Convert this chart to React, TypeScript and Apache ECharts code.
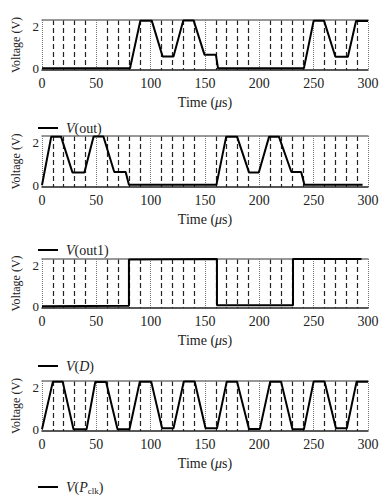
import React, { useEffect, useRef } from 'react';
import * as echarts from 'echarts';

const yLabelValues = [0, 2];

const vOut: [number, number][] = [
  [0, 0], [81, 0], [90.5, 2.27], [101, 2.27], [111, 0.56], [121, 0.56], [130, 2.28], [139.5, 2.28],
  [149.5, 0.65], [160, 0.65], [162, 0], [241, 0], [250, 2.27], [259.5, 2.27], [270, 0.55],
  [281.5, 0.55], [289, 2.25], [300, 2.25],
];

const vOut1: [number, number][] = [
  [0, 0], [8.5, 2.27], [17.5, 2.27], [28, 0.6], [39, 0.6], [47.5, 2.28], [56.5, 2.28], [66.5, 0.62],
  [77, 0.62], [80, 0.02], [160.5, 0.02], [169.5, 2.27], [179.5, 2.27], [190.5, 0.6], [199.5, 0.6],
  [209, 2.27], [218, 2.27], [229.5, 0.62], [238.5, 0.62], [241.5, 0.02], [295, 0.02],
];

const vD: [number, number][] = [
  [0, 0], [80, 0.03], [80, 2.27], [161, 2.3], [161, 0.05], [231, 0.05], [231, 2.3], [294, 2.3],
];

const vPclk: [number, number][] = [
  [0, 0], [10, 2.27], [19, 2.27], [29, 0], [41, 0], [49, 2.25], [59, 2.25], [69.5, 0], [80.5, 0],
  [90, 2.27], [100.5, 2.27], [110.5, 0.05], [121, 0.05], [130.5, 2.28], [140.5, 2.28], [150.5, 0.05],
  [161, 0.05], [170, 2.27], [179.5, 2.27], [190.5, 0.02], [200.5, 0.02], [210, 2.27], [220, 2.27],
  [230.5, 0], [241, 0], [250, 2.28], [260, 2.28], [270.5, 0.05], [280.5, 0.05], [289.5, 2.27], [300, 2.27],
];

const seriesNames = ['V(out)', 'V(out1)', 'V(D)', 'V(Pclk)'];
const legendLabels = ['{i|V}(out)', '{i|V}(out1)', '{i|V}({i|D})', '{i|V}({i|P}{sub|clk})'];
const seriesData = [vOut, vOut1, vD, vPclk];

const panelTops = [20, 136, 259, 381];
const panelHeights = [50, 51, 49, 50];
const legendCenters = [123, 245, 361, 482];

const FONT = '"Liberation Serif", "DejaVu Serif", serif';

export default function App() {
  const ref = useRef<HTMLDivElement>(null);
  useEffect(() => {
    document.body.style.margin = '0';
    if (!ref.current) return;
    const chart = echarts.init(ref.current, undefined, { renderer: 'svg' });
    const grid = panelTops.map((t, i) => ({ left: 42, width: 326, top: t, height: panelHeights[i] }));
    const bottomAxes = panelTops.map((_, i) => ({
      gridIndex: i,
      type: 'value',
      position: 'bottom',
      min: 0,
      max: 300,
      interval: 50,
      axisLine: { show: true, onZero: false, lineStyle: { color: '#222', width: 1.5 } },
      axisTick: { show: false },
      axisLabel: { fontFamily: FONT, fontSize: 14, color: '#222', margin: 6 },
      splitLine: { show: true, lineStyle: { type: 'dotted', color: '#777', width: 1 } },
      minorTick: { show: false, splitNumber: 5 },
      minorSplitLine: { show: true, lineStyle: { type: [5, 3], color: '#222', width: 1.2 } },
      name: 'Time ({i|μ}s)',
      nameLocation: 'middle',
      nameGap: 25,
      nameTextStyle: {
        fontFamily: FONT, fontSize: 14, color: '#222',
        rich: { i: { fontFamily: FONT, fontSize: 14, fontStyle: 'italic', color: '#222' } },
      },
    }));
    const topAxes = panelTops.map((_, i) => ({
      gridIndex: i,
      type: 'value',
      position: 'top',
      min: 0,
      max: 300,
      axisLine: { show: true, onZero: false, lineStyle: { color: '#777', width: 1.5 } },
      axisTick: { show: false },
      axisLabel: { show: false },
      splitLine: { show: false },
    }));
    const yAxes = panelTops.map((_, i) => ({
      gridIndex: i,
      type: 'value',
      min: -0.08,
      max: 2.3,
      axisLine: { show: false },
      axisTick: { show: false },
      splitLine: { show: false },
      axisLabel: { customValues: yLabelValues, fontFamily: FONT, fontSize: 13, color: '#222', margin: 3 },
      name: 'Voltage (V)',
      nameLocation: 'middle',
      nameGap: 19,
      nameTextStyle: { fontFamily: FONT, fontSize: 12, color: '#222' },
    }));
    const series = seriesData.map((d, i) => ({
      name: seriesNames[i],
      type: 'line',
      xAxisIndex: i,
      yAxisIndex: i,
      data: d,
      symbol: 'none',
      color: '#000',
      lineStyle: { color: '#000', width: 2 },
      z: 5,
    }));
    const legend = seriesNames.map((nm, i) => ({
      data: [nm],
      left: 33,
      top: legendCenters[i] - 8,
      icon: 'rect',
      itemWidth: 20,
      itemHeight: 2,
      formatter: () => legendLabels[i],
      textStyle: {
        fontFamily: FONT, fontSize: 14, color: '#222', padding: [0, 0, 0, 3], lineHeight: 16,
        rich: {
          i: { fontFamily: FONT, fontSize: 14, fontStyle: 'italic', color: '#222', lineHeight: 16 },
          sub: { fontFamily: FONT, fontSize: 9, color: '#222', lineHeight: 8, verticalAlign: 'bottom' },
        },
      },
      selectedMode: false,
    }));
    chart.setOption({
      animation: false,
      backgroundColor: '#fff',
      grid,
      xAxis: [...bottomAxes, ...topAxes],
      yAxis: yAxes,
      legend,
      series,
    });
    return () => chart.dispose();
  }, []);
  return <div ref={ref} style={{ width: 391, height: 500 }} />;
}
